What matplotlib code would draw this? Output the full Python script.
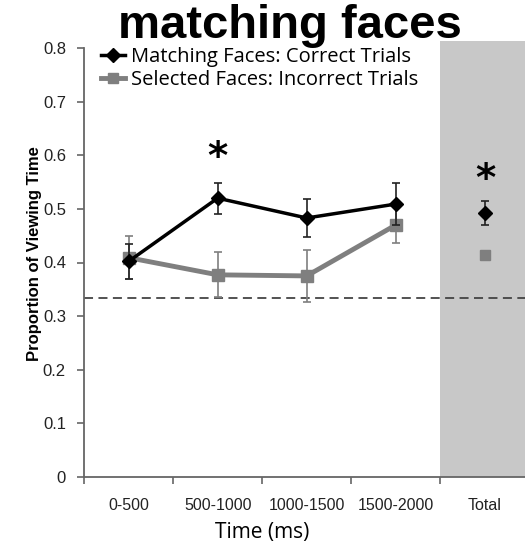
import matplotlib
matplotlib.use("Agg")
import matplotlib.pyplot as plt
from matplotlib.lines import Line2D
import numpy as np

categories = ["0-500", "500-1000", "1000-1500", "1500-2000", "Total"]
match_vals = [0.402, 0.520, 0.483, 0.509]
match_err = [0.032, 0.029, 0.035, 0.040]
sel_vals = [0.409, 0.377, 0.375, 0.470]
sel_err = [0.040, 0.042, 0.048, 0.033]
match_total = 0.492
match_total_err = 0.022
sel_total = 0.414
chance = 1 / 3
series_names = ["Matching Faces: Correct Trials", "Selected Faces: Incorrect Trials"]

fig = plt.figure(figsize=(5.25, 5.44), dpi=100)
ax = fig.add_axes([84 / 525, 1 - 477 / 544, 1 - 84 / 525, (477 - 48) / 544])

x = np.arange(4)
ax.axvspan(3.5, 4.6, ymin=0, ymax=0.813 / 0.8, color="#c8c8c8", clip_on=False, zorder=0, lw=0)
ax.axhline(chance, color="#444444", ls=(0, (5, 3)), lw=1.3, zorder=1)

gray = "#7f7f7f"
ax.errorbar(x, sel_vals, yerr=sel_err, color=gray, lw=3.5, marker="s", ms=8,
            ecolor=gray, elinewidth=1.2, capsize=3, capthick=1.2, zorder=3)
ax.errorbar(x, match_vals, yerr=match_err, color="black", lw=2.5, marker="D", ms=7,
            ecolor="#222222", elinewidth=1.2, capsize=3, capthick=1.2, zorder=4)
ax.errorbar([4], [match_total], yerr=[match_total_err], color="black", marker="D", ms=7,
            ecolor="#222222", elinewidth=1.2, capsize=3, capthick=1.2, zorder=4)
ax.plot([4], [sel_total], marker="s", ms=7, color=gray, zorder=3, ls="none")

ax.text(1, 0.574, "*", ha="center", va="baseline", fontsize=28, family="DejaVu Sans",
        fontweight="bold")
ax.text(4, 0.533, "*", ha="center", va="baseline", fontsize=28, family="DejaVu Sans",
        fontweight="bold")

ax.set_xlim(-0.5, 4.45)
ax.set_ylim(0, 0.8)
ax.set_yticks(np.arange(0, 0.81, 0.1))
ax.set_yticklabels(["0"] + [f"{v:.1f}" for v in np.arange(0.1, 0.81, 0.1)],
                   family="Liberation Sans", fontsize=12, color="#222222")
ax.set_xticks([-0.5, 0.5, 1.5, 2.5, 3.5])
ax.set_xticklabels([])
ax.set_xticks(np.arange(5), minor=True)
ax.set_xticklabels(categories, minor=True, family="Liberation Sans", fontsize=11.5, color="#222222")
ax.tick_params(axis="x", which="minor", length=0, pad=15)
ax.tick_params(axis="x", which="major", length=5, color="#666666", width=1.2)
ax.tick_params(axis="y", length=5, color="#666666", width=1.2, pad=8)

for s in ["top", "right"]:
    ax.spines[s].set_visible(False)
for s in ["left", "bottom"]:
    ax.spines[s].set_color("#666666")
    ax.spines[s].set_linewidth(1.3)

ax.set_ylabel("Proportion of Viewing Time", family="Liberation Sans", fontweight="bold",
              fontsize=12, labelpad=7)
ax.yaxis.set_label_coords(-0.095, 0.52)
ax.set_xlabel("Time (ms)", family="Open Sans", fontsize=15, labelpad=6)
ax.xaxis.set_label_coords(0.404, -0.105)

handles = [Line2D([], [], color="black", lw=2.5, marker="D", ms=7),
           Line2D([], [], color=gray, lw=3.5, marker="s", ms=7)]
leg = ax.legend(handles, series_names, loc="upper left", bbox_to_anchor=(0.02, 1.02),
                frameon=False, prop={"family": "Open Sans", "size": 14.5},
                handlelength=1.2, handletextpad=0.3, labelspacing=0.12, borderaxespad=0.0)

fig.text(0.553, 0.993, "matching faces", ha="center", va="top", family="Liberation Sans",
         fontweight="bold", fontsize=34, zorder=10)

fig.savefig("out.png", dpi=100)
